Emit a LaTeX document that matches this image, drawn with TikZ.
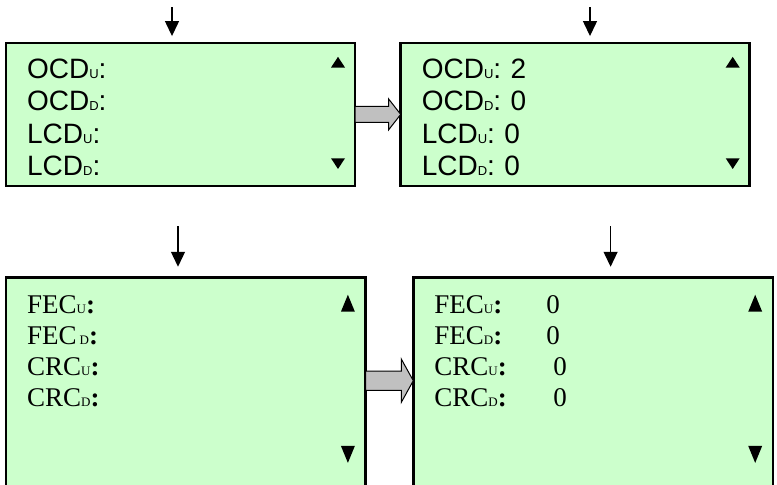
\documentclass[tikz,border=0pt]{standalone}
\usepackage{fontspec}
\setmainfont{Liberation Serif}
\newfontfamily\arialfont{Liberation Sans}
\usepackage{xcolor}
\usepackage{tikz}
\usetikzlibrary{shapes.geometric, shapes.arrows, arrows.meta, positioning, calc}
\definecolor{lcdgreen}{RGB}{204,255,204}
\definecolor{pagegray}{RGB}{192,192,192}
\newcommand{\lo}[1]{{\fontsize{6.5}{7}\selectfont #1}}
\tikzset{
    lcdbox/.style={rectangle, draw=black, line width=1.25pt, fill=lcdgreen, outer sep=0pt, inner sep=0pt},
    smallbox/.style={lcdbox, minimum width=174.5pt, minimum height=71.35pt},
    bigbox/.style={lcdbox, minimum width=179.85pt, minimum height=105.35pt},
    readout/.style={anchor=base west, align=left, text width=150pt, inner sep=0pt},
    sansread/.style={readout, font=\arialfont\fontsize{14}{16.3}\selectfont},
    serifread/.style={readout, font=\fontsize{13.5}{15.5}\selectfont},
    upmark/.style={isosceles triangle, isosceles triangle stretches, shape border rotate=90, fill=black, inner sep=0pt, outer sep=0pt, minimum width=7pt},
    downmark/.style={upmark, shape border rotate=-90},
    nextpage/.style={single arrow, draw=black, line width=0.5pt, fill=pagegray, single arrow head indent=0pt, inner xsep=0pt, outer sep=0pt, anchor=tail},
    feed/.style={line width=0.65pt, -{Triangle[length=7.5pt, width=7pt]}}
}

\begin{document}
\begin{tikzpicture}
    \useasboundingbox (0,0) rectangle (388.5pt,242pt);

    % Nodes
    \node[smallbox] (ocdL) at (90.25pt,184.8pt) {};
    \node[smallbox, right=22.85pt of ocdL] (ocdR) {};
    \node[bigbox, below=45.8pt of ocdL.south west, anchor=north west] (fecL) {};
    \node[bigbox, right=23.8pt of fecL] (fecR) {};

    \node[sansread] (ocdLtext) at ($(ocdL.north west)+(10.35pt,-17.5pt)$) {OCD\lo{U}:\\OCD\lo{D}:\\LCD\lo{U}:\\LCD\lo{D}:};
    \node[sansread] (ocdRtext) at ($(ocdR.north west)+(10.35pt,-17.5pt)$) {OCD\lo{U}: 2\\OCD\lo{D}: 0\\LCD\lo{U}: 0\\LCD\lo{D}: 0};
    \node[serifread] (fecLtext) at ($(fecL.north west)+(10.35pt,-17.85pt)$) {FEC\lo{U}\textbf{:}\\FEC\hspace{1.5pt}\lo{D}\textbf{:}\\CRC\lo{U}\textbf{:}\\CRC\lo{D}\textbf{:}};
    \node[serifread] (fecRtext) at ($(fecR.north west)+(10.35pt,-17.85pt)$) {\makebox[56pt][l]{FEC\lo{U}\textbf{:}}0\\\makebox[56pt][l]{FEC\lo{D}\textbf{:}}0\\\makebox[59.5pt][l]{CRC\lo{U}\textbf{:}}0\\\makebox[59.5pt][l]{CRC\lo{D}\textbf{:}}0};

    % scroll marks
    \foreach \scr in {ocdL, ocdR} {
        \node[upmark, minimum height=5.35pt] (\scr up) at ($(\scr.north east)+(-8.5pt,-10.35pt)$) {};
        \node[downmark, minimum height=5.35pt] (\scr down) at ($(\scr.south east)+(-8.5pt,11.85pt)$) {};
    }
    \foreach \scr in {fecL, fecR} {
        \node[upmark, minimum height=8.5pt] (\scr up) at ($(\scr.north east)+(-8.9pt,-14.85pt)$) {};
        \node[downmark, minimum height=8.5pt] (\scr down) at ($(\scr.north east)+(-8.9pt,-86.6pt)$) {};
    }

    % page arrows
    \node[nextpage, minimum height=22.85pt, inner ysep=3.75pt, single arrow head extend=3.75pt, single arrow tip angle=104] (pageA) at (ocdL.east) {};
    \node[nextpage, minimum height=23.8pt, inner ysep=4.6pt, single arrow head extend=6pt, single arrow tip angle=122] (pageB) at ($(fecL.east)+(0,1pt)$) {};

    % Arrows
    \coordinate (inA) at (86pt,238.3pt);
    \coordinate (inB) at (295pt,238.3pt);
    \coordinate (inC) at (89pt,129pt);
    \coordinate (inD) at (305.3pt,129pt);
    \draw[feed, shorten >=3.5pt] (inA) -- (inA |- ocdL.north);
    \draw[feed, shorten >=3.5pt] (inB) -- (inB |- ocdR.north);
    \draw[feed, shorten >=5.3pt] (inC) -- (inC |- fecL.north);
    \draw[feed, shorten >=5.3pt] (inD) -- (inD |- fecR.north);
\end{tikzpicture}
\end{document}
